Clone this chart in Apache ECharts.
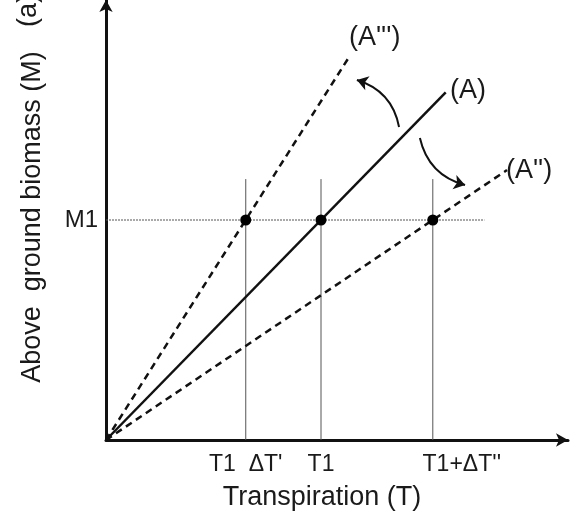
<!DOCTYPE html>
<html><head><meta charset="utf-8">
<script src="https://cdn.jsdelivr.net/npm/echarts@6/dist/echarts.min.js"></script>
<style>html,body{margin:0;padding:0;background:#fff}#c{width:572px;height:518px}</style>
</head><body><div id="c"></div>
<script>
// Data (T in units of T1, M in units of M1)
const tickValues = [0.65, 1, 1.52];
const tickLabels = ["T1  \u0394T'", "T1", "T1+\u0394T''"];
const yTickValues = [1];
const yTickLabels = ["M1"];
const lineA = [[0, 0], [1.58, 1.58]];
const lineA3 = [[0, 0], [1.13, 1.74]];
const lineA2 = [[0, 0], [1.865, 1.227]];
const points = [[0.65, 1], [1, 1], [1.52, 1]];
const guideTop = 1.186;
const guideRight = 1.76;
const arrows = [[[1.363, 1.423], [1.167, 1.636]], [[1.46, 1.373], [1.67, 1.159]]];
const curveLabels = [["(A''')", 1.13, 1.83], ["(A)", 1.6, 1.59], ["(A'')", 1.86, 1.227]];

const font = "'Liberation Sans', Arial, sans-serif";
const txt = '#1a1a1a';
const chart = echarts.init(document.getElementById('c'));
const guides = tickValues.map(v => ({
  type: 'line', data: [[v, 0], [v, guideTop]], symbol: 'none', silent: true,
  lineStyle: {color: '#555', width: 1}, z: 1
}));
guides.push({type: 'line', data: [[0, 1], [guideRight, 1]], symbol: 'none', silent: true,
  lineStyle: {color: '#555', width: 1, type: [2, 1]}, z: 1});

chart.setOption({
  animation: false,
  grid: {left: 106, top: 0, width: 462, height: 440},
  xAxis: {
    type: 'value', min: 0, max: 462 / 215,
    splitLine: {show: false},
    axisLine: {lineStyle: {color: '#111', width: 3}, symbol: ['none', 'arrow'], symbolSize: [10, 12]},
    axisTick: {show: false},
    axisLabel: {customValues: tickValues, color: txt, fontFamily: font, fontSize: 23, margin: 13,
      formatter: v => { const i = tickValues.findIndex(t => Math.abs(t - v) < 1e-6); return i < 0 ? '' : (i === 2 ? '{r|' + tickLabels[i] + '}' : tickLabels[i]); },
      rich: {r: {fontSize: 23, fontFamily: font, color: txt, padding: [0, 0, 0, 58]}}},
    name: 'Transpiration (T)', nameLocation: 'middle', nameGap: 44,
    nameTextStyle: {color: txt, fontFamily: font, fontSize: 27, padding: [0, 30, 0, 0]}
  },
  yAxis: {
    type: 'value', min: 0, max: 2,
    splitLine: {show: false},
    axisLine: {lineStyle: {color: '#111', width: 3}, symbol: ['none', 'arrow'], symbolSize: [10, 12]},
    axisTick: {show: false},
    axisLabel: {customValues: yTickValues, color: txt, fontFamily: font, fontSize: 24, margin: 8,
      formatter: v => { const i = yTickValues.findIndex(t => Math.abs(t - v) < 1e-6); return i >= 0 ? yTickLabels[i] : ''; }},
    name: 'Above  ground biomass (M)', nameLocation: 'middle', nameGap: 60,
    nameTextStyle: {color: txt, fontFamily: font, fontSize: 27, padding: [0, 0, 0, 6]}
  },
  graphic: [{type: 'text', x: 15, y: 27, rotation: Math.PI / 2, style: {text: '(a)', font: '27px ' + font, fill: txt}}],
  series: guides.concat([
    {type: 'line', data: lineA, symbol: 'none', lineStyle: {color: '#111', width: 2.5}, z: 3},
    {type: 'line', data: lineA3, symbol: 'none', lineStyle: {color: '#111', width: 2.5, type: [7, 5]}, z: 3},
    {type: 'line', data: lineA2, symbol: 'none', lineStyle: {color: '#111', width: 2.5, type: [7, 5]}, z: 3},
    {type: 'scatter', data: points, symbolSize: 11, itemStyle: {color: '#000', opacity: 1}, z: 5},
    {type: 'lines', coordinateSystem: 'cartesian2d', z: 4,
      data: arrows.map(a => ({coords: a})),
      symbol: ['none', 'arrow'], symbolSize: 11,
      lineStyle: {color: '#111', width: 2, opacity: 1, curveness: -0.3}},
    {type: 'scatter', symbolSize: 0, z: 6, itemStyle: {opacity: 1},
      data: curveLabels.map(l => ({value: [l[1], l[2]], name: l[0]})),
      label: {show: true, position: 'right', distance: 0, formatter: p => p.name,
        color: txt, fontFamily: font, fontSize: 27}}
  ])
});
</script></body></html>
